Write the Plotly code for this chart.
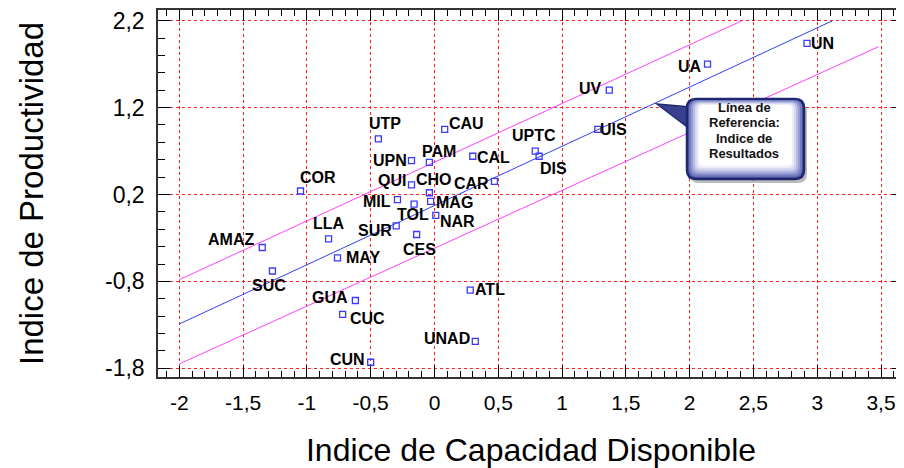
import plotly.graph_objects as go

# ---------------- data ----------------
names = ["UN", "UA", "UV", "UIS", "UPTC", "DIS", "CAL", "CAR", "CAU", "UTP",
         "UPN", "PAM", "QUI", "CHO", "MIL", "TOL", "MAG", "NAR", "SUR", "CES",
         "COR", "LLA", "AMAZ", "MAY", "SUC", "GUA", "CUC", "UNAD", "CUN", "ATL"]
capacidad = [2.92, 2.14, 1.37, 1.28, 0.79, 0.82, 0.30, 0.47, 0.08, -0.44,
             -0.18, -0.04, -0.18, -0.04, -0.29, -0.16, -0.03, 0.01, -0.30, -0.14,
             -1.05, -0.83, -1.35, -0.76, -1.27, -0.62, -0.72, 0.32, -0.50, 0.28]
productividad = [1.94, 1.70, 1.40, 0.95, 0.70, 0.64, 0.64, 0.35, 0.95, 0.84,
                 0.59, 0.57, 0.31, 0.22, 0.14, 0.09, 0.12, -0.04, -0.16, -0.26,
                 0.24, -0.31, -0.41, -0.53, -0.68, -1.02, -1.18, -1.49, -1.73, -0.90]

ref_x = [-2.0, 3.12]
ref_y = [-1.29, 2.20]
upper_x = [-2.0, 2.41]
upper_y = [-0.78, 2.20]
lower_x = [-2.0, 3.48]
lower_y = [-1.75, 1.90]

x_ticks = [-2, -1.5, -1, -0.5, 0, 0.5, 1, 1.5, 2, 2.5, 3, 3.5]
x_ticklabels = ["-2", "-1,5", "-1", "-0,5", "0", "0,5", "1", "1,5", "2", "2,5", "3", "3,5"]
y_ticks = [-1.8, -0.8, 0.2, 1.2, 2.2]
y_ticklabels = ["-1,8", "-0,8", "0,2", "1,2", "2,2"]

callout_lines = ["Línea de", "Referencia:", "Indice de", "Resultados"]

# ---------------- styling / layout geometry ----------------
# the page body adds an 8px offset, so the figure is drawn 8px smaller
OFF = 8
W, H = 904 - OFF, 468 - OFF
L, R, T, B = 158 - OFF, 0, 10 - OFF, 91
XR = [-2.167, 3.680]
YR = [-1.900, 2.323]
PW, PH = W - L - R, H - T - B

def px2x(px):
    # px in window pixels
    return XR[0] + (px - OFF - L) / PW * (XR[1] - XR[0])

def py2y(py):
    return YR[1] - (py - OFF - T) / PH * (YR[1] - YR[0])

FONT = "Liberation Sans, Arial, sans-serif"

# label placement (pixel offsets of label centre from its point; +dy = down)
label_off = {
    "UN": (15, 0), "UA": (-18, 2), "UV": (-19, -2), "UIS": (16, 0),
    "UPTC": (-1, -16), "DIS": (14, 12), "CAL": (21, 1), "CAR": (-23, 2),
    "CAU": (22, -6), "UTP": (7, -15), "UPN": (-22, 0), "PAM": (10, -11),
    "QUI": (-20, -4), "CHO": (5, -13), "MIL": (-20, 2), "TOL": (-1, 10),
    "MAG": (24, 1), "NAR": (22, 6), "SUR": (-21, 5), "CES": (3, 15),
    "COR": (17, -14), "LLA": (0, -15), "AMAZ": (-31, -8), "MAY": (25, 0),
    "SUC": (-3, 15), "GUA": (-25, -3), "CUC": (25, 4), "UNAD": (-28, -3),
    "CUN": (-23, -3), "ATL": (20, -1),
}

fig = go.Figure()

fig.add_trace(go.Scatter(x=upper_x, y=upper_y, mode="lines",
                         line=dict(color="#ff40ff", width=1), hoverinfo="skip",
                         showlegend=False))
fig.add_trace(go.Scatter(x=lower_x, y=lower_y, mode="lines",
                         line=dict(color="#ff40ff", width=1), hoverinfo="skip",
                         showlegend=False))
fig.add_trace(go.Scatter(x=ref_x, y=ref_y, mode="lines",
                         line=dict(color="#3040f0", width=1), hoverinfo="skip",
                         showlegend=False))
fig.add_trace(go.Scatter(x=capacidad, y=productividad, mode="markers",
                         marker=dict(symbol="square-open", size=6, color="#3a3aff",
                                     line=dict(width=1.3, color="#3a3aff")),
                         text=names, showlegend=False))

annotations = []
for n, xv, yv in zip(names, capacidad, productividad):
    dx, dy = label_off[n]
    annotations.append(dict(x=xv, y=yv, xref="x", yref="y", text="<b>%s</b>" % n,
                            showarrow=False, xanchor="center", yanchor="middle",
                            xshift=dx, yshift=-dy,
                            font=dict(family=FONT, size=16, color="black")))

# ---------------- callout box ----------------
def rrect(x0p, y0p, x1p, y1p, r):
    def P(px, py):
        return "%.5f,%.5f" % (px2x(px), py2y(py))
    path = "M " + P(x0p + r, y0p)
    path += " L " + P(x1p - r, y0p)
    path += " Q " + P(x1p, y0p) + " " + P(x1p, y0p + r)
    path += " L " + P(x1p, y1p - r)
    path += " Q " + P(x1p, y1p) + " " + P(x1p - r, y1p)
    path += " L " + P(x0p + r, y1p)
    path += " Q " + P(x0p, y1p) + " " + P(x0p, y1p - r)
    path += " L " + P(x0p, y0p + r)
    path += " Q " + P(x0p, y0p) + " " + P(x0p + r, y0p) + " Z"
    return path

bx0, by0, bx1, by1 = 687, 99, 804, 179
shapes = []
shapes.append(dict(type="path", xref="x", yref="y",
                   path=rrect(bx0 + 3, by0 + 4, bx1 + 3, by1 + 4, 9),
                   fillcolor="rgba(60,60,60,0.35)", line=dict(width=0)))
tail = "M %.5f,%.5f L %.5f,%.5f L %.5f,%.5f Z" % (
    px2x(657), py2y(104), px2x(690), py2y(107), px2x(690), py2y(129))
shapes.append(dict(type="path", xref="x", yref="y", path=tail,
                   fillcolor="#39418f", line=dict(color="#1e2870", width=1.5)))
layers = [(0, "#505aa3"), (2, "#747cc0"), (4, "#969dd3"), (6, "#b7bce3"),
          (8, "#d5d8f0"), (10, "#ebedf8"), (12, "#ffffff")]
for i, (ins, col) in enumerate(layers):
    shapes.append(dict(type="path", xref="x", yref="y",
                       path=rrect(bx0 + ins, by0 + ins * 0.5, bx1 - ins, by1 - ins * 1.1,
                                  max(9 - ins * 0.4, 3)),
                       fillcolor=col,
                       line=dict(color="#1e2870", width=2.5) if i == 0 else dict(width=0)))

line_y = [107.5, 122.5, 138, 153.5]
for txt, ly in zip(callout_lines, line_y):
    annotations.append(dict(x=px2x(744), y=py2y(ly), xref="x", yref="y",
                            text="<b>%s</b>" % txt, showarrow=False,
                            xanchor="center", yanchor="middle",
                            font=dict(family=FONT, size=13, color="#111111")))

axis_common = dict(
    showline=True, linecolor="#333333", linewidth=1.5, mirror="allticks",
    ticks="inside", tickcolor="black", tickwidth=1.3,
    showgrid=True, gridcolor="#ff2020", griddash="dot", gridwidth=1,
    zeroline=False, tickmode="array", ticklabeloverflow="allow",
)

fig.update_layout(
    width=W, height=H,
    margin=dict(l=L, r=R, t=T, b=B, autoexpand=False),
    paper_bgcolor="white", plot_bgcolor="white",
    font=dict(family=FONT, color="black"),
    xaxis=dict(range=XR, tickvals=x_ticks, ticktext=x_ticklabels, ticklen=11,
               tickfont=dict(size=21, family=FONT), ticklabelstandoff=6,
               minor=dict(ticks="inside", ticklen=6, tickcolor="black", tickmode="linear",
                          tick0=-2, dtick=0.1, showgrid=False),
               title=dict(text="Indice de Capacidad Disponible", standoff=27,
                          font=dict(size=32, family=FONT)),
               automargin=False, **axis_common),
    yaxis=dict(range=YR, tickvals=y_ticks, ticktext=y_ticklabels, ticklen=12,
               tickfont=dict(size=23, family=FONT), ticklabelstandoff=7,
               minor=dict(ticks="inside", ticklen=7, tickcolor="black", tickmode="linear",
                          tick0=-1.8, dtick=0.2, showgrid=False),
               title=dict(text="Indice de Productividad", standoff=51,
                          font=dict(size=33, family=FONT)),
               automargin=False, **axis_common),
    annotations=annotations,
    shapes=shapes,
)

fig.write_html("out.html")
